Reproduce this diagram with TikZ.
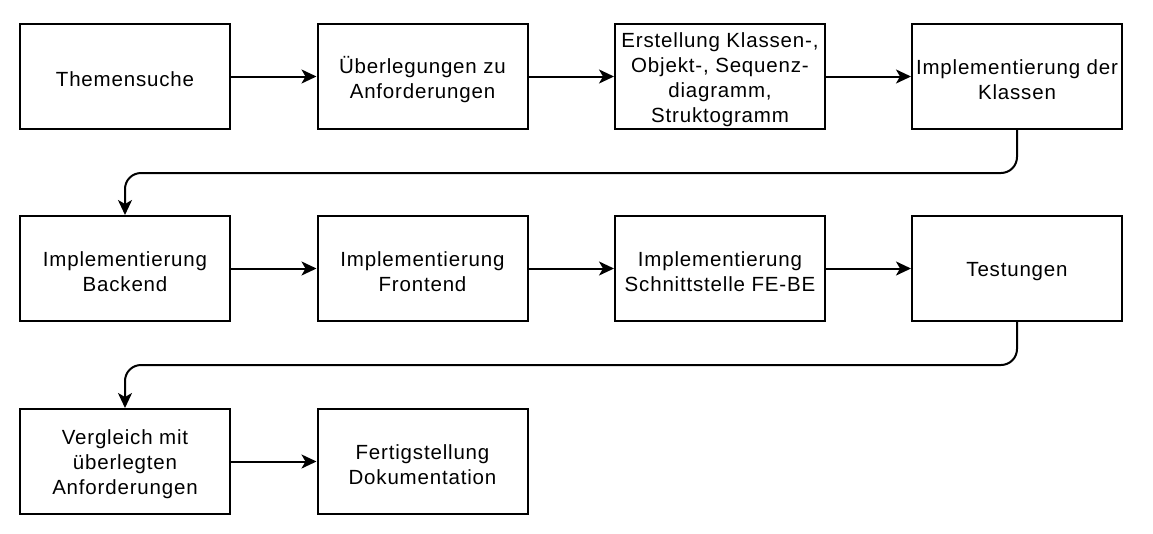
\documentclass[tikz,border=0pt]{standalone}
\usepackage{fontspec}
\setmainfont{Liberation Sans}[LetterSpace=4]
\usetikzlibrary{arrows.meta}
\begin{document}
\begin{tikzpicture}[x=1pt,y=-1pt,
  box/.style={draw=black,line width=2pt,minimum width=210pt,minimum height=105pt,inner sep=0pt},
  txt/.style={align=center,inner sep=0pt,font=\fontsize{20.5}{25}\selectfont},
  conn/.style={line width=2pt,-{Stealth[length=15pt,width=14pt,inset=4pt]}},
  link/.style={conn,rounded corners=16pt}]
\useasboundingbox (0,0) rectangle (1153,533);
\node[box] (a1) at (125,76.5) {};
\node[box] (a2) at (422.5,76.5) {};
\node[box] (a3) at (720,76.5) {};
\node[box] (a4) at (1017,76.5) {};
\node[box] (b1) at (125,268.5) {};
\node[box] (b2) at (422.5,268.5) {};
\node[box] (b3) at (720,268.5) {};
\node[box] (b4) at (1017,268.5) {};
\node[box] (c1) at (125,461.5) {};
\node[box] (c2) at (422.5,461.5) {};
\node[txt] (ta1) at ([yshift=-3pt]a1.center) {Themensuche};
\node[txt] (ta2) at ([yshift=-3pt]a2.center) {Überlegungen zu\\Anforderungen};
\node[txt] (ta3) at ([yshift=-3pt]a3.center) {Erstellung Klassen-,\\Objekt-, Sequenz-\\diagramm,\\Struktogramm};
\node[txt] (ta4) at ([yshift=-3pt]a4.center) {Implementierung der\\Klassen};
\node[txt] (tb1) at ([yshift=-3pt]b1.center) {Implementierung\\Backend};
\node[txt] (tb2) at ([yshift=-3pt]b2.center) {Implementierung\\Frontend};
\node[txt] (tb3) at ([yshift=-3pt]b3.center) {Implementierung\\Schnittstelle FE-BE};
\node[txt] (tb4) at ([yshift=-3pt]b4.center) {Testungen};
\node[txt] (tc1) at ([yshift=-3pt]c1.center) {Vergleich mit\\überlegten\\Anforderungen};
\node[txt] (tc2) at ([yshift=-3pt]c2.center) {Fertigstellung\\Dokumentation};
\draw[conn] (a1) -- (a2);
\draw[conn] (a2) -- (a3);
\draw[conn] (a3) -- (a4);
\draw[link] (a4.south) -- (1017,173) -- (125,173) -- (b1.north);
\draw[conn] (b1) -- (b2);
\draw[conn] (b2) -- (b3);
\draw[conn] (b3) -- (b4);
\draw[link] (b4.south) -- (1017,365) -- (125,365) -- (c1.north);
\draw[conn] (c1) -- (c2);
\end{tikzpicture}
\end{document}
